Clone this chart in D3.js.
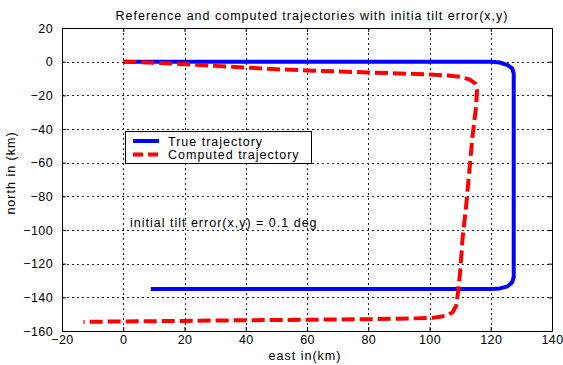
<!DOCTYPE html>
<html>
<head>
<meta charset="utf-8">
<script src="https://cdn.jsdelivr.net/npm/d3@7"></script>
<style>
  html, body { margin: 0; padding: 0; background: #fff; }
  svg { display: block; font-family: "Liberation Sans", Arial, Helvetica, sans-serif; }
  .lbl { font-size: 12.5px; letter-spacing: 1px; }
</style>
</head>
<body>
<svg id="chart" width="563" height="365"></svg>
<script>
// Reference (true) path: east / north in km
const trueEast  = [0, 120, 123, 125.5, 127, 127.5, 127.5, 127, 125.5, 123, 120, 9];
const trueNorth = [0, 0, -0.5, -2, -4, -7, -128, -131, -133.5, -134.7, -135, -135];

// Path computed with an initial tilt error
const compEast  = [0, 10, 20, 30, 40, 50, 60, 70, 80, 90, 100, 106, 110, 113, 115, 115.5, 115.2, 114, 113, 112, 110.8, 110, 109.4, 108.7, 107.5, 105, 101, 95, 80, 60, 40, 20, 0, -13];
const compNorth = [0, -0.6, -1.5, -2.5, -3.5, -4.5, -5.2, -5.8, -6.4, -7, -7.6, -8.2, -9, -10.5, -13, -17, -27, -45, -65, -85, -105, -125, -136, -145, -149, -151, -152.2, -152.5, -153, -153.3, -153.6, -154, -154.3, -154.6];

const xTicks = [-20, 0, 20, 40, 60, 80, 100, 120, 140];
const yTicks = [20, 0, -20, -40, -60, -80, -100, -120, -140, -160];

const seriesNames = ["True trajectory", "Computed trajectory"];
const seriesColors = ["#0000ff", "#ff0000"];

const svg = d3.select("#chart");
const plotL = 62, plotR = 552, plotT = 28, plotB = 331;

const x = d3.scaleLinear().domain([-20, 140]).range([plotL, plotR]);
const y = d3.scaleLinear().domain([-160, 20]).range([plotB, plotT]);

// grid
const grid = svg.append("g").attr("stroke", "#222").attr("stroke-width", 1)
  .attr("stroke-dasharray", "2,3").attr("shape-rendering", "crispEdges");
grid.selectAll("line.v").data(xTicks.slice(1, -1)).join("line")
  .attr("x1", d => Math.round(x(d)) + 0.5).attr("x2", d => Math.round(x(d)) + 0.5)
  .attr("y1", plotT).attr("y2", plotB);
grid.selectAll("line.h").data(yTicks.slice(1, -1)).join("line")
  .attr("y1", d => Math.round(y(d)) + 0.5).attr("y2", d => Math.round(y(d)) + 0.5)
  .attr("x1", plotL).attr("x2", plotR);

// axes with inward ticks
const xAxis = d3.axisBottom(x).tickValues(xTicks).tickSizeInner(-4).tickSizeOuter(0).tickPadding(4.5);
const yAxis = d3.axisLeft(y).tickValues(yTicks).tickSizeInner(-4).tickSizeOuter(0).tickPadding(9);
const xTop = d3.axisTop(x).tickValues(xTicks).tickSizeInner(-4).tickSizeOuter(0).tickFormat("");
const yRight = d3.axisRight(y).tickValues(yTicks).tickSizeInner(-4).tickSizeOuter(0).tickFormat("");

function styleAxis(g) {
  g.select(".domain").attr("stroke", "#000");
  g.selectAll(".tick line").attr("stroke", "#000");
  g.selectAll(".tick text").attr("fill", "#000").attr("font-size", 12.5)
    .attr("letter-spacing", 0.4)
    .attr("font-family", "'Liberation Sans', Arial, sans-serif");
}
svg.append("g").attr("transform", `translate(0,${plotB})`).call(xAxis).call(styleAxis);
svg.append("g").attr("transform", `translate(${plotL},0)`).call(yAxis).call(styleAxis);
svg.append("g").attr("transform", `translate(0,${plotT})`).call(xTop).call(styleAxis);
svg.append("g").attr("transform", `translate(${plotR},0)`).call(yRight).call(styleAxis);

// trajectories
const line = d3.line().x(d => x(d[0])).y(d => y(d[1]));
const trueData = trueEast.map((e, i) => [e, trueNorth[i]]);
const compData = compEast.map((e, i) => [e, compNorth[i]]);

svg.append("path").datum(trueData).attr("d", line)
  .attr("fill", "none").attr("stroke", seriesColors[0]).attr("stroke-width", 4)
  .attr("stroke-linejoin", "round");
svg.append("path").datum(compData).attr("d", line)
  .attr("fill", "none").attr("stroke", seriesColors[1]).attr("stroke-width", 4)
  .attr("stroke-dasharray", "13,5").attr("stroke-linejoin", "round");

// title and axis labels
svg.append("text").attr("class", "lbl").attr("x", 312).attr("y", 20).attr("text-anchor", "middle")
  .text("Reference and computed trajectories with initia tilt error(x,y)");
svg.append("text").attr("class", "lbl").attr("x", 305).attr("y", 360).attr("text-anchor", "middle")
  .text("east in(km)");
svg.append("text").attr("class", "lbl").attr("transform", "translate(15,173) rotate(-90)")
  .attr("text-anchor", "middle").text("north in (km)");

// annotation
svg.append("text").attr("class", "lbl").attr("x", x(2.2)).attr("y", y(-95) + 5.5)
  .text("initial tilt error(x,y) = 0.1 deg");

// legend
const lg = svg.append("g");
lg.append("rect").attr("x", 125.5).attr("y", 131.5).attr("width", 186).attr("height", 32)
  .attr("fill", "#fff").attr("stroke", "#000").attr("stroke-width", 1);
seriesNames.forEach((name, i) => {
  const yy = 141 + i * 13.5;
  lg.append("line").attr("x1", 133).attr("x2", 159).attr("y1", yy).attr("y2", yy)
    .attr("stroke", seriesColors[i]).attr("stroke-width", 4)
    .attr("stroke-dasharray", i === 1 ? "10,5" : null);
  lg.append("text").attr("class", "lbl").attr("x", 168).attr("y", yy + 4.5).text(name);
});
</script>
</body>
</html>
